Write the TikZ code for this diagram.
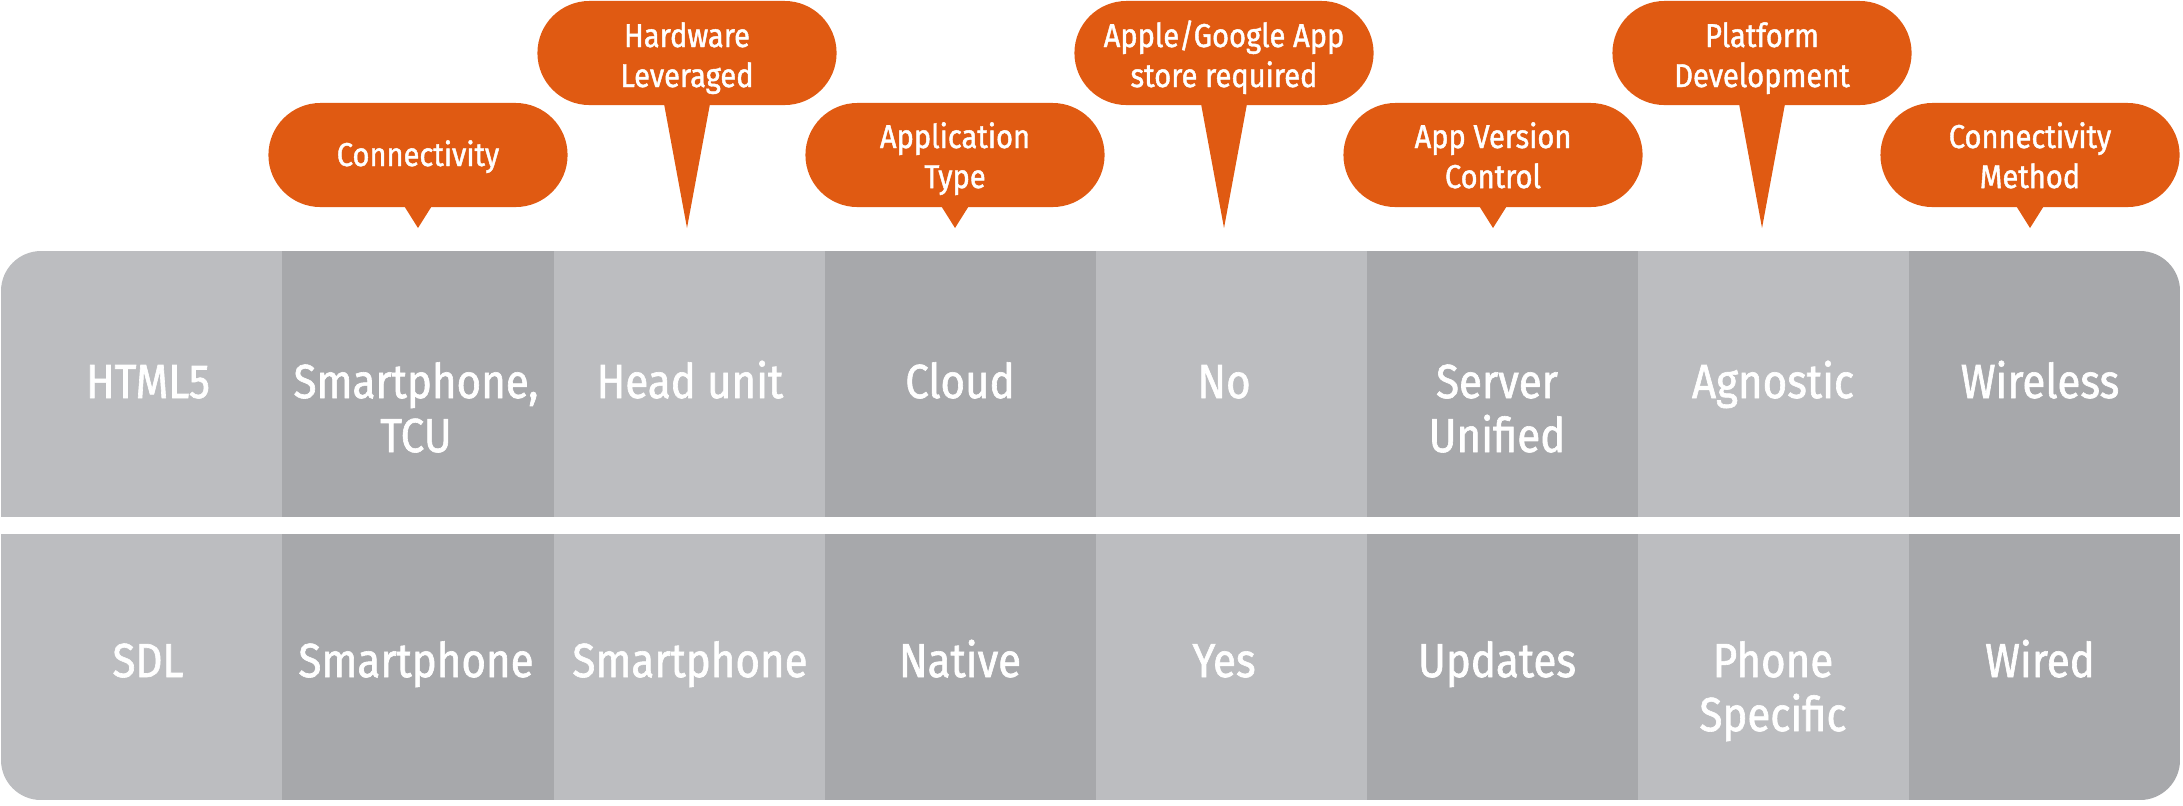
\documentclass[tikz,border=0pt]{standalone}
\usepackage{fontspec}
\setmainfont{Fira Sans}[FakeStretch=0.88,FakeBold=1.3]
\usetikzlibrary{calc}
\definecolor{lightg}{RGB}{188,189,192}
\definecolor{darkg}{RGB}{167,168,171}
\definecolor{orng}{RGB}{224,90,18}
\newcommand{\twol}[3]{\vtop{\baselineskip=#3\lineskiplimit=-100pt\halign{\hfil##\hfil\cr #1\cr #2\cr}}}
\begin{document}
\begin{tikzpicture}[x=0.01cm,y=-0.01cm,
  cell/.style={text=white,anchor=base,inner sep=0pt,font=\fontsize{13.6}{15.4}\selectfont},
  ctxt/.style={text=white,anchor=base,inner sep=0pt,font=\fontsize{9.4}{11.4}\selectfont},
  bubble/.style={fill=orng,draw=none,rounded corners=0.52cm,minimum width=2.99cm,minimum height=1.04cm,inner sep=0pt},
  tail/.style={fill=orng,draw=none}]
\useasboundingbox (0,0) rectangle (2183,805);
% table
\begin{scope}
\clip[rounded corners=0.4cm] (1,251) rectangle (2180,800);
\fill[lightg] (1,251) rectangle (282,800);
\fill[darkg] (282,251) rectangle (554,800);
\fill[lightg] (554,251) rectangle (825,800);
\fill[darkg] (825,251) rectangle (1096,800);
\fill[lightg] (1096,251) rectangle (1367,800);
\fill[darkg] (1367,251) rectangle (1638,800);
\fill[lightg] (1638,251) rectangle (1909,800);
\fill[darkg] (1909,251) rectangle (2180,800);
\fill[white] (0,517) rectangle (2183,534);
\end{scope}
% row 1
\node[cell] (a1) at (148,398) {HTML5};
\node[cell] (a2) at (416,398) {\twol{Smartphone,}{TCU}{0.54cm}};
\node[cell] (a3) at (690,398) {Head unit};
\node[cell] (a4) at (960,398) {Cloud};
\node[cell] (a5) at (1224,398) {No};
\node[cell] (a6) at (1497,398) {\twol{Server}{Unified}{0.54cm}};
\node[cell] (a7) at (1773,398) {Agnostic};
\node[cell] (a8) at (2040,398) {Wireless};
% row 2
\node[cell] (b1) at (148,677) {SDL};
\node[cell] (b2) at (416,677) {Smartphone};
\node[cell] (b3) at (690,677) {Smartphone};
\node[cell] (b4) at (960,677) {Native};
\node[cell] (b5) at (1224,677) {Yes};
\node[cell] (b6) at (1497,677) {Updates};
\node[cell] (b7) at (1773,677) {\twol{Phone}{Specific}{0.54cm}};
\node[cell] (b8) at (2040,677) {Wired};
% lower callouts
\node[bubble] (q1) at (418,155) {};
\coordinate (p1) at (418,228);
\fill[tail] ($(q1.south)+(-14,-2)$) -- (p1) -- ($(q1.south)+(14,-2)$) -- cycle;
\node[ctxt] (l1) at (418,166) {Connectivity};
\node[bubble] (q3) at (955,155) {};
\coordinate (p3) at (955,228);
\fill[tail] ($(q3.south)+(-14,-2)$) -- (p3) -- ($(q3.south)+(14,-2)$) -- cycle;
\node[ctxt] (l3) at (955,148) {\twol{Application}{Type}{0.4cm}};
\node[bubble] (q5) at (1493,155) {};
\coordinate (p5) at (1493,228);
\fill[tail] ($(q5.south)+(-14,-2)$) -- (p5) -- ($(q5.south)+(14,-2)$) -- cycle;
\node[ctxt] (l5) at (1493,148) {\twol{App Version}{Control}{0.4cm}};
\node[bubble] (q7) at (2030,155) {};
\coordinate (p7) at (2030,228);
\fill[tail] ($(q7.south)+(-14,-2)$) -- (p7) -- ($(q7.south)+(14,-2)$) -- cycle;
\node[ctxt] (l7) at (2030,148) {\twol{Connectivity}{Method}{0.4cm}};
% upper callouts
\node[bubble] (q2) at (687,53) {};
\coordinate (p2) at (687,228);
\fill[tail] ($(q2.south)+(-23,-2)$) -- (p2) -- ($(q2.south)+(23,-2)$) -- cycle;
\node[ctxt] (l2) at (687,47) {\twol{Hardware}{Leveraged}{0.4cm}};
\node[bubble] (q4) at (1224,53) {};
\coordinate (p4) at (1224,228);
\fill[tail] ($(q4.south)+(-23,-2)$) -- (p4) -- ($(q4.south)+(23,-2)$) -- cycle;
\node[ctxt] (l4) at (1224,47) {\twol{Apple/Google App}{store required}{0.4cm}};
\node[bubble] (q6) at (1762,53) {};
\coordinate (p6) at (1762,228);
\fill[tail] ($(q6.south)+(-23,-2)$) -- (p6) -- ($(q6.south)+(23,-2)$) -- cycle;
\node[ctxt] (l6) at (1762,47) {\twol{Platform}{Development}{0.4cm}};
\end{tikzpicture}
\end{document}
